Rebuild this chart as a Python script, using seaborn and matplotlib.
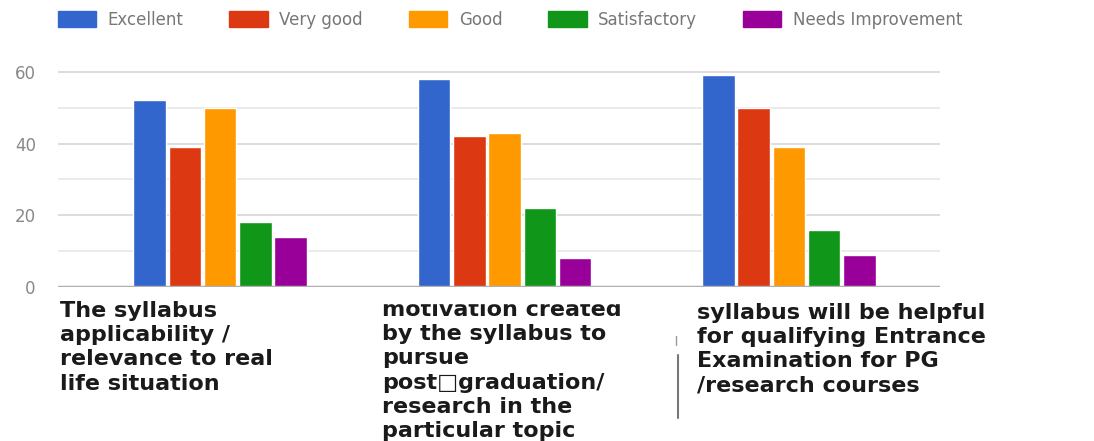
import pandas as pd
import numpy as np
import matplotlib
matplotlib.use('Agg')
import matplotlib.pyplot as plt
import seaborn as sns

questions = ['Q1', 'Q2', 'Q3']
ratings = ['Excellent', 'Very good', 'Good', 'Satisfactory', 'Needs Improvement']
excellent = [52, 58, 59]
very_good = [39, 42, 50]
good = [50, 43, 39]
satisfactory = [18, 22, 16]
needs_impr = [14, 8, 9]
colors = ['#3366cc', '#dc3912', '#ff9900', '#109618', '#990099']

label_1 = ['The syllabus', 'applicability /', 'relevance to real', 'life situation']
label_2 = ['motivation created', 'by the syllabus to', 'pursue',
           'post\u25a1graduation/', 'research in the', 'particular topic']
label_3 = ['syllabus will be helpful', 'for qualifying Entrance',
           'Examination for PG', '/research courses']

rows = []
for name, vals in zip(ratings, [excellent, very_good, good, satisfactory, needs_impr]):
    for q, v in zip(questions, vals):
        rows.append({'question': q, 'rating': name, 'count': v})
df = pd.DataFrame(rows)

sns.set_theme(style='white')
plt.rcParams['font.family'] = ['DejaVu Sans']

fig = plt.figure(figsize=(10.94, 4.41), dpi=100)
ax = fig.add_axes([0.053, 0.349, 0.806, 0.529])
sns.barplot(data=df, x='question', y='count', hue='rating', hue_order=ratings,
            palette=colors, width=0.62, gap=0.08, saturation=1, ax=ax, legend=False)

ax.set_ylim(0, 65)
ax.set_xlim(-0.57, 2.53)
ax.set_yticks([0, 20, 40, 60])
ax.set_yticks([10, 30, 50], minor=True)
ax.grid(axis='y', which='major', color='#dddddd', lw=1.4)
ax.grid(axis='y', which='minor', color='#e8e8e8', lw=1.2)
ax.set_axisbelow(True)
ax.axhline(0, color='#b0b0b0', lw=2.5, zorder=3)
for s in ax.spines.values():
    s.set_visible(False)
ax.set_xlabel('')
ax.set_ylabel('')
ax.set_xticklabels([])
ax.tick_params(axis='x', length=0)
ax.tick_params(axis='y', which='both', length=0, labelsize=12, labelcolor='#888888', pad=16)

handles = [plt.Rectangle((0, 0), 1, 1, color=c) for c in colors]
fig.legend(handles, ratings, loc='upper left', bbox_to_anchor=(0.039, 1.01), ncol=5,
           frameon=False, fontsize=12, handlelength=2.3, handleheight=1.1,
           columnspacing=2.75, handletextpad=0.7, labelcolor='#777777')

def put(lines, x, y0):
    for i, t in enumerate(lines):
        fig.text(x / 1094, 1 - (y0 + i * 24.2) / 441, t, fontsize=16, fontweight='bold',
                 color='#1a1a1a', va='center', ha='left')

put(label_1, 60, 311)
put(label_2, 382, 310)
put(label_3, 697, 313)

# top of the middle label is cut off in the source image
fig.add_artist(plt.Rectangle((375 / 1094, 1 - 303 / 441), 290 / 1094, 12 / 441,
                             transform=fig.transFigure, color='white', zorder=5))

fig.add_artist(plt.Line2D([678 / 1094, 678 / 1094], [1 - 355 / 441, 1 - 418 / 441],
                          color='#777777', lw=1.5))
fig.add_artist(plt.Line2D([676 / 1094, 676 / 1094], [1 - 336 / 441, 1 - 345 / 441],
                          color='#999999', lw=1))

fig.savefig('out.png', dpi=100)
